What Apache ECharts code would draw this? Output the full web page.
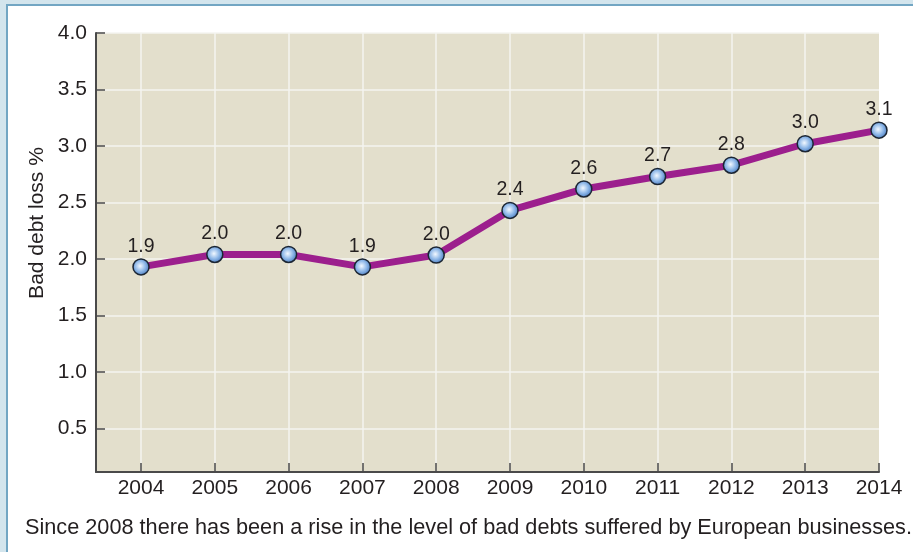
<!DOCTYPE html>
<html>
<head>
<meta charset="utf-8">
<script src="https://cdn.jsdelivr.net/npm/echarts@6/dist/echarts.min.js"></script>
<style>
html,body{margin:0;padding:0;background:#fff;}
#chart{width:913px;height:552px;}
</style>
</head>
<body>
<div id="chart"></div>
<script>
const years = [2004, 2005, 2006, 2007, 2008, 2009, 2010, 2011, 2012, 2013, 2014];
const badDebtLoss = [1.93, 2.04, 2.04, 1.93, 2.035, 2.43, 2.62, 2.73, 2.83, 3.02, 3.14];
const yTickLabels = ['0.5', '1.0', '1.5', '2.0', '2.5', '3.0', '3.5', '4.0'];
const yAxisName = 'Bad debt loss %';
const caption = 'Since 2008 there has been a rise in the level of bad debts suffered by European businesses.';

const FONT = '"Liberation Sans", Arial, Helvetica, sans-serif';
const chart = echarts.init(document.getElementById('chart'), null, {renderer: 'canvas'});

chart.setOption({
  animation: false,
  backgroundColor: '#ffffff',
  graphic: [
    {type: 'rect', left: 0, top: 0, shape: {width: 913, height: 552}, style: {fill: '#d3e5ed'}, z: -10},
    {type: 'rect', left: 6, top: 4, shape: {width: 907, height: 548}, style: {fill: '#72a6c3'}, z: -9},
    {type: 'rect', left: 8, top: 6, shape: {width: 905, height: 546}, style: {fill: '#ffffff'}, z: -8},
    {type: 'text', x: 37, y: 223, rotation: Math.PI / 2,
      style: {text: yAxisName, font: '21px ' + FONT, fill: '#231f20', align: 'center', verticalAlign: 'middle'}},
    {type: 'text', x: 25, y: 528,
      style: {text: caption, font: '21.7px ' + FONT, fill: '#231f20', align: 'left', verticalAlign: 'middle'}}
  ],
  grid: {left: 96, right: 34, top: 33, bottom: 80, show: true, backgroundColor: '#e3dfcc', borderWidth: 0},
  xAxis: {
    type: 'value', min: 2003.39, max: 2014, splitNumber: 10,
    axisLine: {show: true, lineStyle: {color: '#4a4a4a', width: 2}},
    axisTick: {show: true, inside: true, length: 9, lineStyle: {color: '#4a4a4a', width: 1.5}},
    axisLabel: {
      margin: 6, color: '#231f20', fontSize: 21, fontFamily: FONT, showMinLabel: false,
      formatter: v => (Math.abs(v - Math.round(v)) < 1e-6 && years.indexOf(Math.round(v)) >= 0) ? String(Math.round(v)) : ''
    },
    splitLine: {show: true, showMinLine: false, showMaxLine: false, lineStyle: {color: '#f4f4f0', width: 1.5}}
  },
  yAxis: {
    type: 'value', min: 0.115, max: 4.0, splitNumber: 8,
    axisLine: {show: true, lineStyle: {color: '#4a4a4a', width: 2}},
    axisTick: {show: true, inside: true, length: 9, lineStyle: {color: '#4a4a4a', width: 1.5}},
    axisLabel: {
      margin: 9, color: '#231f20', fontSize: 21, fontFamily: FONT, showMinLabel: false,
      formatter: v => { const s = v.toFixed(1); return yTickLabels.indexOf(s) >= 0 && Math.abs(v * 2 - Math.round(v * 2)) < 1e-6 ? s : ''; }
    },
    splitLine: {show: true, showMinLine: false, lineStyle: {color: '#f4f4f0', width: 1.5}}
  },
  series: [{
    type: 'line',
    data: years.map((y, i) => [y, badDebtLoss[i]]),
    lineStyle: {color: '#9c1f8d', width: 7},
    symbol: 'circle',
    symbolSize: 16,
    itemStyle: {
      color: {type: 'radial', x: 0.45, y: 0.45, r: 0.6,
        colorStops: [{offset: 0, color: '#f2f8ff'}, {offset: 0.5, color: '#8fb8e8'}, {offset: 1, color: '#3b6fb8'}]},
      borderColor: '#1c2633', borderWidth: 1.5
    },
    label: {
      show: true, position: 'top', distance: 2,
      color: '#231f20', fontSize: 19.5, fontFamily: FONT,
      formatter: p => p.value[1].toFixed(1)
    },
    z: 5
  }]
});
</script>
</body>
</html>
